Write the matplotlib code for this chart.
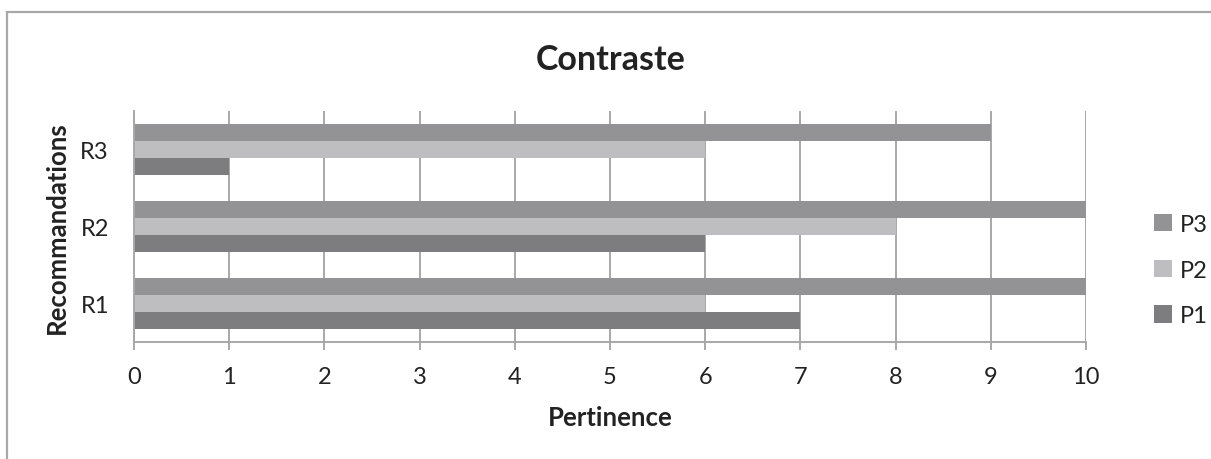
import matplotlib
matplotlib.use('Agg')
import matplotlib.pyplot as plt
from matplotlib.patches import Rectangle
import numpy as np

plt.rcParams['font.family'] = ['Lato', 'DejaVu Sans']

# scores per recommendation
recommandations = ['R1', 'R2', 'R3']
p1 = [7, 6, 1]
p2 = [6, 8, 6]
p3 = [10, 10, 9]
series = ['P1', 'P2', 'P3']
colors = ['#7d7d80', '#bebec1', '#939396']

W, H = 1211, 460
fig = plt.figure(figsize=(W / 100, H / 100), dpi=100)

# chart frame (only top and left edges fall inside the image)
fig.patches.append(Rectangle((7 / W, -0.1), 1.2, 1 - 13 / H + 0.1,
                             transform=fig.transFigure, fill=False,
                             edgecolor='#a8a8a8', linewidth=1.6))

ax = fig.add_axes([134 / W, 1 - 343 / H, (1086 - 134) / W, (343 - 112) / H])

y = np.arange(len(recommandations))
h = 0.22
for vals, off, name, col in zip([p1, p2, p3], [-h, 0, h], series, colors):
    ax.barh(y + off, vals, height=h, color=col, label=name, zorder=2)

ax.set_xlim(0, 10)
ax.set_ylim(-0.5, 2.5)
ax.set_xticks(range(11))
ax.set_yticks(y)
ax.set_yticklabels(recommandations)

ax.grid(axis='x', color='#a8a8a8', linewidth=1.4, zorder=1)
ax.set_axisbelow(True)
for s in ['top', 'right']:
    ax.spines[s].set_visible(False)
for s in ['left', 'bottom']:
    ax.spines[s].set_color('#a8a8a8')
    ax.spines[s].set_linewidth(1.4)
ax.tick_params(axis='x', length=6, width=1.4, color='#a8a8a8',
               labelsize=17, pad=11, labelcolor='#222222')
ax.tick_params(axis='y', length=0, labelsize=17, pad=18, labelcolor='#222222')

ax.set_xlabel('Pertinence', fontsize=18.5, fontweight='bold', labelpad=13, color='#222222')
ax.set_ylabel('Recommandations', fontsize=18.5, fontweight='bold', labelpad=8, color='#222222')
fig.text(611 / W, 1 - 60 / H, 'Contraste', fontsize=24.5, fontweight='bold',
         ha='center', va='center', color='#222222')

handles, labels = ax.get_legend_handles_labels()
fig.legend(handles[::-1], labels[::-1], loc='center left',
           bbox_to_anchor=(1133 / W, 1 - 271 / H), frameon=False,
           fontsize=17, handlelength=0.75, handleheight=0.75,
           handletextpad=0.35, labelspacing=1.05, labelcolor='#222222')

fig.savefig('out.png', dpi=100)
